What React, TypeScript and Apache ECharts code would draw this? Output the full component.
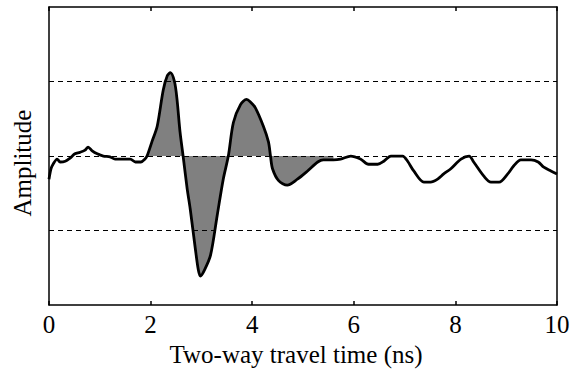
import React, { useEffect, useRef } from "react";
import * as echarts from "echarts";

const timeNs: number[] = [
  0, 0.04, 0.08, 0.16, 0.22, 0.32, 0.41, 0.51, 0.61, 0.71, 0.77, 0.85, 0.95, 1.07, 1.2, 1.3, 1.44, 1.6, 1.7, 1.81, 1.89,
  1.93, 2.03, 2.13, 2.25, 2.33, 2.39, 2.47, 2.52, 2.58, 2.64, 2.72, 2.78, 2.88, 2.94, 2.98, 3.06, 3.18, 3.31, 3.43, 3.53,
  3.63, 3.77, 3.89, 3.96, 4.06, 4.22, 4.32, 4.36, 4.4, 4.52, 4.69, 4.89, 5.09, 5.29, 5.4, 5.6, 5.74, 5.94, 6.13, 6.29,
  6.47, 6.59, 6.73, 6.96, 7.06, 7.18, 7.38, 7.51, 7.65, 7.77, 7.91, 8.11, 8.27, 8.36, 8.56, 8.7, 8.86, 9.03, 9.15, 9.29,
  9.49, 9.63, 9.74, 9.88, 10.0,
];
const amplitude: number[] = [
  -0.31, -0.17, -0.11, -0.04, -0.08, -0.07, -0.03, 0.03, 0.05, 0.08, 0.12, 0.07, 0.03, 0.0, -0.01, -0.04, -0.04, -0.04,
  -0.08, -0.08, -0.04, 0.0, 0.2, 0.4, 0.89, 1.08, 1.12, 1.0, 0.76, 0.32, 0.0, -0.44, -0.71, -1.24, -1.53, -1.61, -1.53,
  -1.33, -0.8, -0.31, 0.0, 0.45, 0.69, 0.76, 0.73, 0.65, 0.4, 0.19, 0.0, -0.17, -0.33, -0.39, -0.31, -0.2, -0.08, -0.05,
  -0.05, -0.04, 0.0, -0.04, -0.11, -0.11, -0.07, 0.0, 0.0, -0.07, -0.2, -0.35, -0.35, -0.31, -0.24, -0.17, -0.04, 0.0,
  -0.08, -0.27, -0.35, -0.35, -0.24, -0.13, -0.05, -0.05, -0.08, -0.15, -0.2, -0.24,
];
const referenceLevels: number[] = [1, 0, -1];
const xTicks: number[] = [0, 2, 4, 6, 8, 10];
const fillStart = 1.93;
const fillEnd = 5.6;

export default function App() {
  const ref = useRef<HTMLDivElement>(null);
  useEffect(() => {
    if (!ref.current) return;
    const chart = echarts.init(ref.current, undefined, { renderer: "svg" });
    const pts = timeNs.map((t, i) => [t, amplitude[i]]);
    const fillPts = pts.filter((p) => p[0] >= fillStart && p[0] <= fillEnd);
    const font = "'Liberation Serif', 'Times New Roman', serif";
    const axisLine = { show: true, onZero: false, lineStyle: { color: "#000", width: 1.5 } };
    chart.setOption({
      animation: false,
      backgroundColor: "#fff",
      grid: {
        left: 49,
        right: 20,
        top: 7,
        bottom: 65,
        show: false,
      },
      xAxis: [
        {
          type: "value",
          min: xTicks[0],
          max: xTicks[xTicks.length - 1],
          interval: 2,
          position: "bottom",
          name: "Two-way travel time (ns)",
          nameLocation: "middle",
          nameGap: 25,
          nameTextStyle: { fontFamily: font, fontSize: 25, color: "#000", padding: [0, 14, 0, 0] },
          axisLine,
          axisTick: { show: true, inside: true, length: 4, lineStyle: { color: "#000", width: 1.5 } },
          axisLabel: { fontFamily: font, fontSize: 25, color: "#000", margin: 7 },
          splitLine: { show: false },
        },
        {
          type: "value",
          min: xTicks[0],
          max: xTicks[xTicks.length - 1],
          interval: 2,
          position: "top",
          axisLine,
          axisTick: { show: true, inside: true, length: 4, lineStyle: { color: "#000", width: 1.5 } },
          axisLabel: { show: false },
          splitLine: { show: false },
        },
      ],
      yAxis: [
        {
          type: "value",
          min: -2,
          max: 2,
          interval: 1,
          position: "left",
          name: "Amplitude",
          nameLocation: "middle",
          nameGap: 14,
          nameTextStyle: { fontFamily: font, fontSize: 25, color: "#000", padding: [0, 14, 0, 0] },
          axisLine,
          axisTick: { show: false },
          axisLabel: { show: false },
          splitLine: { show: false },
        },
        {
          type: "value",
          min: -2,
          max: 2,
          interval: 1,
          position: "right",
          axisLine,
          axisTick: { show: false },
          axisLabel: { show: false },
          splitLine: { show: false },
        },
      ],
      series: [
        {
          type: "line",
          data: fillPts,
          smooth: 0.3,
          symbol: "none",
          lineStyle: { width: 0 },
          areaStyle: { color: "#808080", opacity: 1, origin: 0 },
          z: 2,
        },
        {
          type: "line",
          data: pts,
          smooth: 0.3,
          symbol: "none",
          lineStyle: { color: "#000", width: 2.8 },
          z: 4,
          markLine: {
            silent: true,
            symbol: "none",
            label: { show: false },
            lineStyle: { color: "#000", type: [5, 4], width: 1 },
            data: referenceLevels.map((v) => ({ yAxis: v })),
          },
        },
      ],
    });
    return () => chart.dispose();
  }, []);
  return (
    <div
      ref={ref}
      style={{ position: "fixed", left: 0, top: 0, width: 577, height: 372, overflow: "hidden" }}
    />
  );
}
